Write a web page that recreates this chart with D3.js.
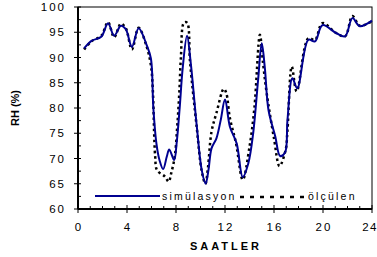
<!DOCTYPE html>
<html><head><meta charset="utf-8">
<script src="https://cdn.jsdelivr.net/npm/d3@7"></script>
<style>
html,body{margin:0;padding:0;background:#fff;}
svg text{font-family:"Liberation Sans",Arial,sans-serif;}
</style></head>
<body><svg id="c" width="377" height="257"></svg>
<script>
const simHours = [0.5,1.1,1.9,2.45,2.95,3.5,3.9,4.4,4.95,5.6,5.95,6.15,6.4,6.65,6.95,7.25,7.45,7.85,8.05,8.3,8.55,8.9,9.2,9.7,10.1,10.42,10.65,10.9,11.3,11.65,12.0,12.4,12.95,13.45,13.9,14.3,14.7,15.0,15.25,15.55,16.1,16.5,16.9,17.1,17.5,17.9,18.8,19.35,19.95,21.1,21.8,22.4,23.0,24.0];
const simValues = [91.8,93.3,94.1,96.8,94.3,96.3,95.6,92.1,95.8,92.5,89.8,80,73,69.7,67.9,70.4,71.8,69.7,73,80,88,94.3,89,76.3,67.7,65,67.7,72,74,77.6,81.7,76.3,73,66.3,69,75,85.5,92.8,88,79.6,74.4,70.5,71.2,77.6,85.9,83.9,93.5,93.2,96.4,94.8,94.2,97.8,96.2,97.3];
const measHours = [0.5,1.1,1.9,2.45,2.95,3.5,3.9,4.4,4.95,5.6,5.95,6.1,6.3,6.45,7.1,7.4,7.6,7.9,8.1,8.27,8.4,8.65,8.9,9.15,9.7,10.1,10.4,10.6,10.9,11.3,11.9,12.1,12.4,12.9,13.45,14.0,14.4,14.85,15.1,15.4,16.0,16.45,16.95,17.1,17.45,17.85,18.8,19.35,19.95,21.1,21.8,22.4,23.0,24.0];
const measValues = [91.6,93.2,94.3,97.0,94.0,96.7,95.8,91.6,95.9,92.2,88.5,84,70.4,67.7,66.4,65.4,67,70.4,76.3,83,90,96.9,96.9,89,76,67.5,65,68,75.3,79,83.8,83,78,73,65.8,72.3,80,94.5,89,83,74,68.5,71.7,75.6,88.2,83.3,93.8,93.5,96.8,94.8,94.2,98.2,96.3,97.2];
const xTicks = [0,4,8,12,16,20,24];
const yTicks = [60,65,70,75,80,85,90,95,100];
const seriesNames = ["simülasyon","ölçülen"];
const xTitle = "SAATLER";
const yTitle = "RH (%)";

const svg = d3.select("#c");
const L=78, R=372, T=7, B=209;
const x = d3.scaleLinear().domain([0,24]).range([L,R]);
const y = d3.scaleLinear().domain([60,100]).range([B,T]);

// frame
svg.append("rect").attr("x",L).attr("y",T).attr("width",R-L).attr("height",B-T)
  .attr("fill","none").attr("stroke","#000").attr("stroke-width",1);

// y axis
const yAxis = svg.append("g");
yAxis.append("line").attr("x1",L).attr("x2",L).attr("y1",T).attr("y2",B).attr("stroke","#000").attr("stroke-width",2);
yTicks.forEach(v=>{
  yAxis.append("line").attr("x1",L-4).attr("x2",L+3).attr("y1",y(v)).attr("y2",y(v)).attr("stroke","#000").attr("stroke-width",1);
  if(v<100) yAxis.append("line").attr("x1",L).attr("x2",L+3).attr("y1",y(v+2.5)).attr("y2",y(v+2.5)).attr("stroke","#000").attr("stroke-width",1);
  yAxis.append("text").attr("x",L-12).attr("y",y(v)+4).attr("text-anchor","end")
    .attr("font-size",11.5).attr("letter-spacing","2px").text(v);
});
// x axis
const xAxis = svg.append("g");
xAxis.append("line").attr("x1",L).attr("x2",R).attr("y1",B).attr("y2",B).attr("stroke","#000").attr("stroke-width",2);
for(let h=0;h<=24;h++){
  if(h%4===0){
    xAxis.append("line").attr("x1",x(h)).attr("x2",x(h)).attr("y1",B-4).attr("y2",B+4).attr("stroke","#000").attr("stroke-width",1);
  } else {
    xAxis.append("line").attr("x1",x(h)).attr("x2",x(h)).attr("y1",B-3).attr("y2",B).attr("stroke","#000").attr("stroke-width",1);
  }
}
xTicks.forEach((h,i)=>{
  const last = i===xTicks.length-1;
  xAxis.append("text").attr("x",last?378:x(h)+1).attr("y",231).attr("text-anchor",last?"end":"middle")
    .attr("font-size",11.5).attr("letter-spacing",last?"1.5px":"2px").text(h);
});

// titles
svg.append("text").attr("x",(L+R)/2+1).attr("y",250).attr("text-anchor","middle")
  .attr("font-size",11).attr("font-weight","bold").attr("letter-spacing","3px").text(xTitle);
svg.append("text").attr("transform","translate(19,"+((T+B)/2)+") rotate(-90)").attr("text-anchor","middle")
  .attr("font-size",11).attr("font-weight","bold").text(yTitle);

// lines
const meas = measHours.map((h,i)=>[h,measValues[i]]);
const sim = simHours.map((h,i)=>[h,simValues[i]]);
const line = d3.line().x(d=>x(d[0])).y(d=>y(d[1])).curve(d3.curveCatmullRom.alpha(0.5));
svg.append("path").attr("d",line(meas)).attr("fill","none").attr("stroke","#000")
  .attr("stroke-width",2.5).attr("stroke-dasharray","2.5,3");
svg.append("path").attr("d",line(sim)).attr("fill","none").attr("stroke","#000090")
  .attr("stroke-width",2);

// legend
svg.append("line").attr("x1",95).attr("x2",160).attr("y1",196).attr("y2",196).attr("stroke","#000090").attr("stroke-width",2);
svg.append("text").attr("x",162).attr("y",200).attr("font-size",10.5).attr("letter-spacing","2.2px").text(seriesNames[0]);
svg.append("line").attr("x1",240).attr("x2",308).attr("y1",197).attr("y2",197).attr("stroke","#000").attr("stroke-width",2.5).attr("stroke-dasharray","4,6");
svg.append("text").attr("x",308).attr("y",200).attr("font-size",10.5).attr("letter-spacing","2.2px").text(seriesNames[1]);
</script></body></html>
